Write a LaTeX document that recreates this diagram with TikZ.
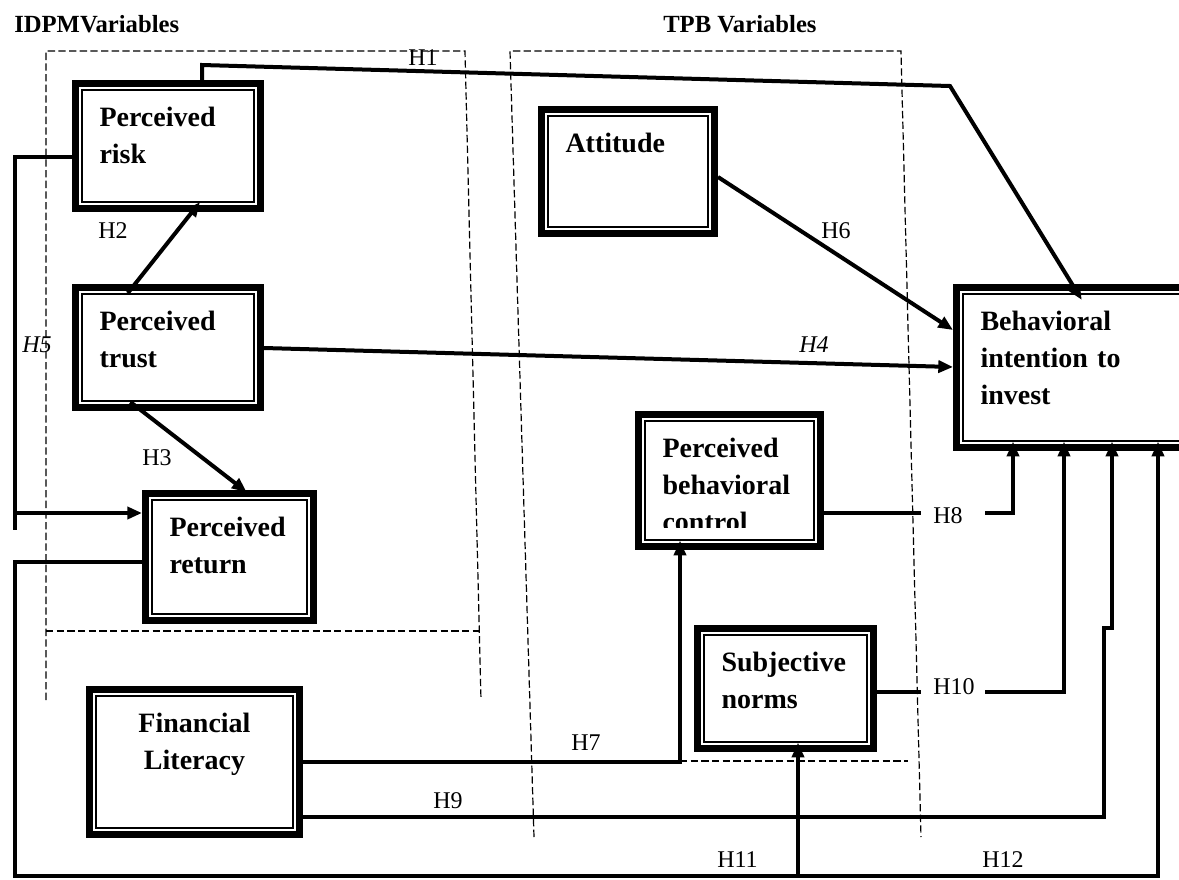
\documentclass[tikz,border=0pt]{standalone}
\usepackage{fontspec}
\setmainfont{Liberation Serif}
\usetikzlibrary{arrows.meta}

\begin{document}
\begin{tikzpicture}[x=0.75pt,y=-0.75pt,
  cbox/.style={draw, line width=5.25pt, fill=white, anchor=north west, align=left,
    inner xsep=18pt, inner ysep=0pt, text height=31.9pt,
    font=\fontsize{21}{28.1}\selectfont\bfseries,
    path picture={\draw[line width=0.9pt]
      ([xshift=4.9pt,yshift=-4.9pt]path picture bounding box.north west) rectangle
      ([xshift=-4.9pt,yshift=4.9pt]path picture bounding box.south east);}},
  conn/.style={line width=3pt},
  arr/.style={-{Triangle[length=11pt,width=9pt]}},
  grp/.style={line width=0.9pt, dash pattern={on 5.5pt off 2.5pt}},
  hlab/.style={anchor=base west, inner sep=0pt, font=\fontsize{18}{21}\selectfont},
  title/.style={anchor=base west, inner sep=0pt, font=\fontsize{18.5}{22}\selectfont\bfseries}]
\useasboundingbox (0,0) rectangle (1179,879);

% group frames
\draw[grp] (46,700) -- (46,51) -- (465,51) -- (481,700);
\draw[grp] (46,631) -- (480,631);
\draw[grp] (534,837) -- (510,51) -- (901,51) -- (921,837);
\draw[grp] (680,761) -- (908,761);

% titles
\node[title] (idpm) at (14,32) {IDPMVariables};
\node[title] (tpb) at (663,32) {TPB Variables};

% constructs
\node[cbox, text width=102.75pt, text depth=61.9pt] (risk) at (72,80) {Perceived\\ risk};
\node[cbox, text width=102.75pt, text depth=58.1pt] (trust) at (72,284) {Perceived\\ trust};
\node[cbox, text width=90pt, text depth=63.4pt] (ret) at (142,490) {Perceived\\ return};
\node[cbox, text width=121.5pt, text depth=76.9pt, align=center] (fl) at (86,686) {Financial\\ Literacy};
\node[cbox, text width=93.75pt, text depth=61.1pt] (att) at (538,106) {Attitude};
\node[cbox, text width=100.5pt, text depth=67.1pt] (pbc) at (635,411) {Perceived\\ behavioral\\ control};
\node[cbox, text width=96pt, text depth=58.1pt] (sn) at (694,625) {Subjective\\ norms};
\node[cbox, text width=138pt, text depth=88.1pt] (bi) at (953,284) {Behavioral\\ intention to\\ invest};
% text cut off at the bottom of the box
\fill[white] (646,528) rectangle (813.2,539.2);

% H1
\draw[conn,arr,shorten >=-14pt] (202,0 |- risk.north) -- (202,65) -- (950,86) -- (1072,0 |- bi.north);
% H2, H3
\draw[conn,arr,shorten <=-8.7pt,shorten >=-9.6pt] (135,0 |- trust.north) -- (192,0 |- risk.south);
\draw[conn,arr,shorten <=-11pt,shorten >=-2.5pt] (142,0 |- trust.south) -- (244,0 |- ret.north);
% H4
\draw[conn,arr] (trust.east |- 0,348) -- (bi.west |- 0,367);
% H5
\draw[conn,arr] (risk.west |- 0,157) -- (15,157) -- (15,513) -- (ret.west |- 0,513);
\draw[conn] (15,513) -- (15,530);
% H6
\draw[conn,arr] (att.east |- 0,177) -- (bi.west |- 0,330);
% H7
\draw[conn,arr,shorten >=-7pt] (fl.east |- 0,762) -- (680,762) -- (680,0 |- pbc.south);
% H8
\draw[conn] (pbc.east |- 0,513) -- (921,513);
\draw[conn,arr,shorten >=-7pt] (985,513) -- (1013,513) -- (1013,0 |- bi.south);
% H9
\draw[conn,arr,shorten >=-7pt] (fl.east |- 0,817) -- (1104,817) -- (1104,628) -- (1112,628) -- (1112,0 |- bi.south);
% H10
\draw[conn] (sn.east |- 0,692) -- (921,692);
\draw[conn,arr,shorten >=-7pt] (985,692) -- (1064,692) -- (1064,0 |- bi.south);
% H11, H12
\draw[conn,arr,shorten >=-7pt] (ret.west |- 0,562) -- (15,562) -- (15,876) -- (1158,876) -- (1158,0 |- bi.south);
\draw[conn,arr,shorten >=-7pt] (798,876) -- (798,0 |- sn.south);

% hypothesis labels
\node[hlab] (h1) at (408,65) {H1};
\node[hlab] (h2) at (98,238) {H2};
\node[hlab] (h3) at (142,465) {H3};
\node[hlab] (h4) at (799,352) {\textit{H4}};
\node[hlab] (h5) at (22,352) {\textit{H5}};
\node[hlab] (h6) at (821,238) {H6};
\node[hlab] (h7) at (571,750) {H7};
\node[hlab] (h8) at (933,523) {H8};
\node[hlab] (h9) at (433,808) {H9};
\node[hlab] (h10) at (933,694) {H10};
\node[hlab] (h11) at (717,867) {H11};
\node[hlab] (h12) at (982,867) {H12};

\end{tikzpicture}
\end{document}
